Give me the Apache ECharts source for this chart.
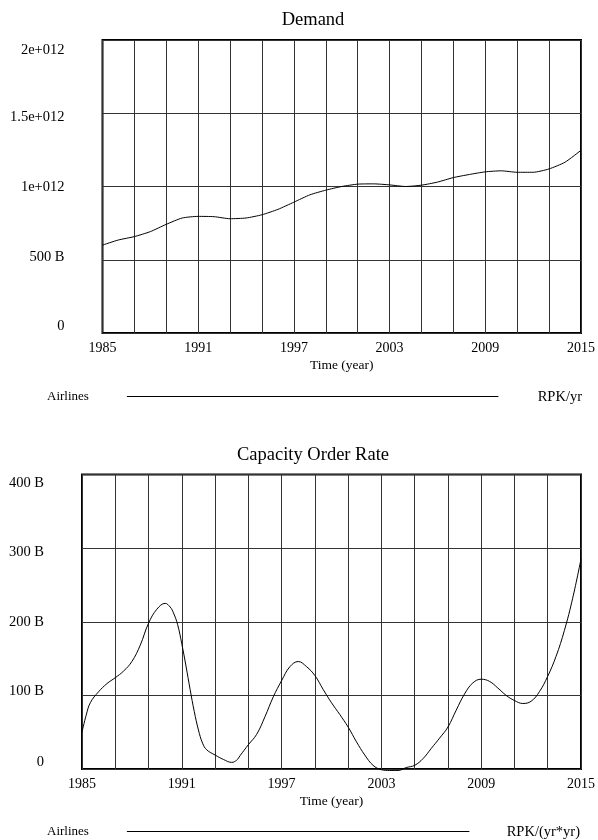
<!DOCTYPE html>
<html>
<head>
<meta charset="utf-8">
<script src="https://cdn.jsdelivr.net/npm/echarts@6/dist/echarts.min.js"></script>
<style>
html,body{margin:0;padding:0;background:#fff;}
#chart{width:598px;height:840px;}
</style>
</head>
<body>
<div id="chart"></div>
<script>
// ---------- data ----------
const START_YEAR = 1985;
const END_YEAR = 2015;

const demandYears = [1985,1986,1987,1988,1989,1990,1991,1992,1993,1994,1995,1996,1997,1998,1999,2000,
  2001,2002,2003,2004,2005,2006,2007,2008,2009,2010,2011,2012,2013,2014,2015];
// RPK/yr, in billions
const demandValues = [600,635,658,692,742,785,796,794,780,785,807,844,893,943,975,1000,
  1016,1018,1011,1000,1009,1030,1061,1082,1100,1107,1097,1097,1120,1166,1247];

const orderYears = [1985,1985.25,1985.5,1986,1986.5,1987,1987.5,1988,1988.5,1989,1989.5,1990,1990.3,1990.5,1990.75,
  1991,1991.25,1991.5,1991.75,1992,1992.25,1992.5,1993,1993.5,1994,1994.3,1994.5,1995,1995.5,1996,1996.5,
  1997,1997.5,1998,1998.5,1999,1999.5,2000,2000.5,2001,2001.5,2002,2002.5,2003,2003.5,2004,2004.5,
  2005,2005.5,2006,2006.5,2007,2007.5,2008,2008.5,2009,2009.5,2010,2010.5,2011,2011.5,2012,2012.5,
  2013,2013.5,2014,2014.5,2015];
// RPK/(yr*yr), in billions
const orderValues = [50,73,90,105,116,124,133,146,168,198,217,225,220,212,196,
  170,140,108,78,53,35,26,19,13,9,12,18,33,47,71,98,
  120,139,146,139,127,108,90,74,57,37,19,5,-1,-2,-2,2,
  5,14,28,42,57,80,102,117,122,119,110,100,93,89,92,105,
  126,153,188,232,285];

const xTickLabels = ['1985','1991','1997','2003','2009','2015'];
const demandTickLabels = ['0','500 B','1e+012','1.5e+012','2e+012'];
const orderTickLabels = ['0','100 B','200 B','300 B','400 B'];

const seriesName = 'Airlines';
const demandTitle = 'Demand';
const orderTitle = 'Capacity Order Rate';
const demandUnit = 'RPK/yr';
const orderUnit = 'RPK/(yr*yr)';
const xAxisName = 'Time (year)';

// ---------- styling ----------
const FONT = "'Liberation Serif', 'Times New Roman', serif";
const demandLabelShift = [-7, -2.75, 0.5, 3.75, 10];
const orderLabelShift = [-7.3, -4.4, 0.3, 4, 8.8];

function buildRich(shifts) {
  const rich = {};
  shifts.forEach((s, i) => {
    rich['s' + i] = {
      fontFamily: FONT, fontSize: 14.5, color: '#000',
      padding: s >= 0 ? [2 * s, 0, 0, 0] : [0, 0, -2 * s, 0]
    };
  });
  return rich;
}

function toPairs(years, values) {
  return years.map((y, i) => [y - START_YEAR, values[i]]);
}

function xAxisCfg(gridIndex) {
  return {
    type: 'value', gridIndex, min: 0, max: END_YEAR - START_YEAR, interval: 2,
    axisLine: { show: false }, axisTick: { show: false },
    axisLabel: {
      margin: 8, fontFamily: FONT, fontSize: 14, color: '#000',
      formatter: v => (v % 6 === 0 ? xTickLabels[v / 6] : '')
    },
    splitLine: { show: true, lineStyle: { color: '#333', width: 1 } },
    name: xAxisName, nameLocation: 'middle', nameGap: 25,
    nameTextStyle: { fontFamily: FONT, fontSize: 13.5, color: '#000' }
  };
}

function yAxisCfg(gridIndex, max, interval, labels, shifts) {
  return {
    type: 'value', gridIndex, min: 0, max, interval,
    axisLine: { show: false }, axisTick: { show: false },
    axisLabel: {
      margin: 38, color: '#000',
      formatter: v => { const i = Math.round(v / interval); return '{s' + i + '|' + labels[i] + '}'; },
      rich: buildRich(shifts)
    },
    splitLine: { show: true, lineStyle: { color: '#333', width: 1 } }
  };
}

const chart = echarts.init(document.getElementById('chart'), null, { renderer: 'canvas' });

const option = {
  backgroundColor: '#fff',
  animation: false,
  title: [
    { text: demandTitle, left: 313, top: 11, textAlign: 'center', padding: 0,
      textStyle: { fontFamily: FONT, fontSize: 18.5, fontWeight: 'normal', color: '#000' } },
    { text: orderTitle, left: 313, top: 446, textAlign: 'center', padding: 0,
      textStyle: { fontFamily: FONT, fontSize: 18.5, fontWeight: 'normal', color: '#000' } }
  ],
  grid: [
    { left: 102.5, right: 15, top: 40, height: 293, show: true, borderColor: '#000', borderWidth: 2, containLabel: false },
    { left: 82, right: 15, top: 474.5, height: 294.5, show: true, borderColor: '#000', borderWidth: 2, containLabel: false }
  ],
  xAxis: [xAxisCfg(0), xAxisCfg(1)],
  yAxis: [
    yAxisCfg(0, 2000, 500, demandTickLabels, demandLabelShift),
    yAxisCfg(1, 400, 100, orderTickLabels, orderLabelShift)
  ],
  legend: [
    { data: [seriesName], left: 47, top: 390, padding: 0, align: 'right', selectedMode: false,
      icon: 'rect', itemWidth: 371.5, itemHeight: 1,
      formatter: n => '{a|' + n + '}',
      textStyle: { rich: { a: { fontFamily: FONT, fontSize: 13, color: '#000', padding: [0, 33, 0, 0] } } } },
    { data: [seriesName], left: 47, top: 825, padding: 0, align: 'right', selectedMode: false,
      icon: 'rect', itemWidth: 342.5, itemHeight: 1,
      formatter: n => '{a|' + n + '}',
      textStyle: { rich: { a: { fontFamily: FONT, fontSize: 13, color: '#000', padding: [0, 33, 0, 0] } } } }
  ],
  graphic: [
    { type: 'text', right: 16, top: 389.5, style: { text: demandUnit, font: '14.5px ' + FONT, fill: '#000' } },
    { type: 'text', right: 18, top: 824.5, style: { text: orderUnit, font: '14.5px ' + FONT, fill: '#000' } }
  ],
  series: [
    { name: seriesName, type: 'line', xAxisIndex: 0, yAxisIndex: 0, data: toPairs(demandYears, demandValues),
      showSymbol: false, symbol: 'none', smooth: 0.2, color: '#000',
      lineStyle: { color: '#000', width: 1 }, clip: false },
    { name: seriesName, type: 'line', xAxisIndex: 1, yAxisIndex: 1, data: toPairs(orderYears, orderValues),
      showSymbol: false, symbol: 'none', smooth: 0.4, color: '#000',
      lineStyle: { color: '#000', width: 1 }, clip: false }
  ]
};

chart.setOption(option);
</script>
</body>
</html>
